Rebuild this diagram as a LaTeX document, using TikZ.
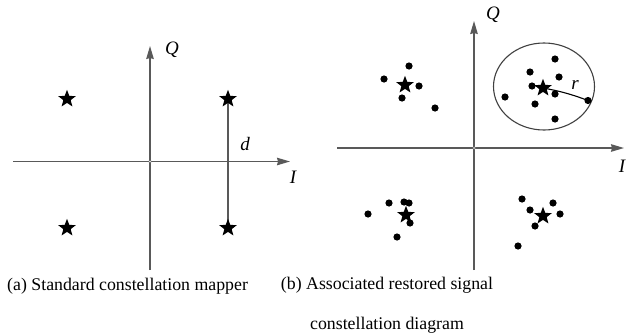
\documentclass[tikz,border=0pt]{standalone}
\usepackage{fontspec}
\setmainfont{Liberation Serif}
\usetikzlibrary{shapes.geometric,arrows.meta,backgrounds}
\begin{document}
\begin{tikzpicture}[x=1pt,y=-1pt,
  axis/.style={draw=black!65, line width=1.3pt, -{Stealth[length=13pt,width=7.5pt,inset=1pt]}},
  starpt/.style={star, star points=5, star point ratio=2.4, fill=black, inner sep=0pt, minimum size=18.5pt},
  dotpt/.style={circle, fill=black, inner sep=0pt, minimum size=7.2pt},
  orig/.style={circle, draw=black!65, fill=white, inner sep=0pt, minimum size=3pt, line width=0.6pt},
  lbl/.style={font=\fontsize{19}{22}\selectfont\itshape, inner sep=0pt},
  captext/.style={font=\fontsize{17.8}{40}\selectfont, inner sep=0pt}]
\useasboundingbox (0,0) rectangle (629,335);
% ---------- panel (a)
\coordinate (aL) at (13,161.5);
\coordinate (aR) at (290,161.5);
\coordinate (aB) at (150,270);
\coordinate (aT) at (150,46);
\draw[axis] (aL) -- (aR);
\draw[axis] (aB) -- (aT);
\node[orig] (aO) at (150,161.5) {};
\node[starpt] (s1) at (67,99) {};
\node[starpt] (s2) at (228,99) {};
\node[starpt] (s3) at (67,228) {};
\node[starpt] (s4) at (228,228) {};
\begin{scope}[on background layer]
\draw[draw=black!65, line width=1.3pt] (s2.center) -- (s4.center);
\end{scope}
\node[lbl] (ld) at (245,144) {d};
\node[lbl] (lQa) at (172,50) {Q};
\node[lbl] (lIa) at (293,177) {I};
% ---------- panel (b)
\coordinate (bL) at (337,148);
\coordinate (bR) at (624,148);
\coordinate (bB) at (474,270);
\coordinate (bT) at (474,21);
\draw[axis] (bL) -- (bR);
\draw[axis] (bB) -- (bT);
\node[orig] (bO) at (474,148) {};
\node[lbl] (lQb) at (493,15) {Q};
\node[lbl] (lIb) at (622,166) {I};
\node[ellipse, draw=black!75, line width=1.1pt, minimum width=101pt, minimum height=87pt, inner sep=0pt] (circ) at (544,86.5) {};
% UL
\node[starpt] (t1) at (405,85) {};
\node[dotpt] (u1) at (409,66) {};
\node[dotpt] (u2) at (384,79) {};
\node[dotpt] (u3) at (419,86) {};
\node[dotpt] (u4) at (402,98) {};
\node[dotpt] (u5) at (435,108) {};
% UR
\node[starpt] (t2) at (543,88) {};
\node[dotpt] (v1) at (555,59) {};
\node[dotpt] (v2) at (530,72) {};
\node[dotpt] (v3) at (559,77) {};
\node[dotpt] (v4) at (532,86) {};
\node[dotpt] (v5) at (555,94) {};
\node[dotpt] (v6) at (505,97) {};
\node[dotpt] (v7) at (535,104) {};
\node[dotpt] (v8) at (555,119) {};
\node[dotpt] (v9) at (588,100.5) {};
\draw[line width=1.1pt] (t2.center) to[bend left=5] (v9.center);
\node[lbl] (lr) at (575,85) {r};
% LL
\node[starpt] (t3) at (406,215) {};
\node[dotpt] (w1) at (368,214) {};
\node[dotpt] (w2) at (389,203) {};
\node[dotpt] (w3) at (404,202) {};
\node[dotpt] (w4) at (409,203) {};
\node[dotpt] (w5) at (410,223) {};
\node[dotpt] (w6) at (397,237) {};
% LR
\node[starpt] (t4) at (543,216) {};
\node[dotpt] (z1) at (522,199) {};
\node[dotpt] (z2) at (530,210) {};
\node[dotpt] (z3) at (553,203) {};
\node[dotpt] (z4) at (560,214) {};
\node[dotpt] (z5) at (535,226) {};
\node[dotpt] (z6) at (518,246) {};
% ---------- captions
\node[captext, anchor=west] (capa) at (7,286) {(a) Standard constellation mapper};
\node[captext, align=center, anchor=north] (capb) at (387,277) {(b) Associated restored signal\\constellation diagram};
\end{tikzpicture}
\end{document}
